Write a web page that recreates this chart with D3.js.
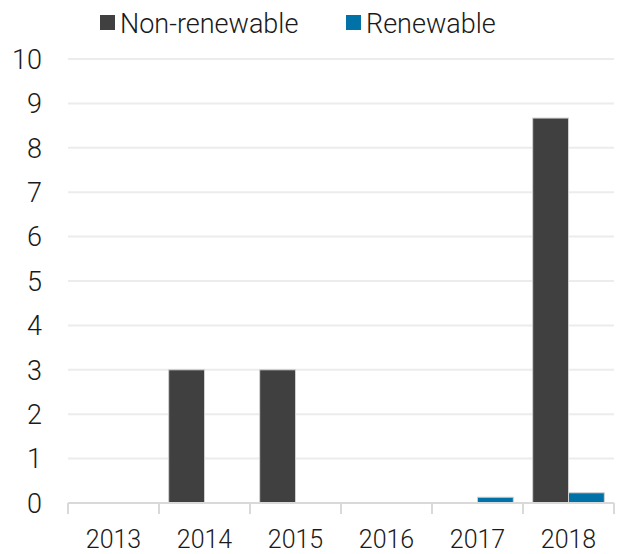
<!DOCTYPE html>
<html>
<head>
<meta charset="utf-8">
<script src="https://cdn.jsdelivr.net/npm/d3@7"></script>
<style>
  body { margin: 0; background: #fff; }
  text { font-family: Roboto, "Open Sans", sans-serif; font-weight: 300; fill: #1a1a1a; }
</style>
</head>
<body>
<svg id="chart" width="622" height="554"></svg>
<script>
// chart data
var years = ["2013", "2014", "2015", "2016", "2017", "2018"];
var seriesNames = ["Non-renewable", "Renewable"];
var nonRenewable = [0, 3, 3, 0, 0, 8.67];
var renewable = [0, 0, 0, 0, 0.13, 0.23];
var yTicks = [0, 1, 2, 3, 4, 5, 6, 7, 8, 9, 10];

var colors = ["#404040", "#0072a8"];

var svg = d3.select("#chart");
var margin = {left: 68, right: 8, top: 59, bottom: 51};
var width = 622 - margin.left - margin.right;
var height = 554 - margin.top - margin.bottom;

var g = svg.append("g").attr("transform", "translate(" + margin.left + "," + margin.top + ")");

var x = d3.scaleBand().domain(years).range([0, width]).paddingInner(0).paddingOuter(0);
var xs = d3.scaleBand().domain(seriesNames).range([0, x.bandwidth()]).paddingInner(0).paddingOuter(0.27);
var y = d3.scaleLinear().domain([0, 10]).range([height, 0]);

// gridlines
g.selectAll(".grid").data(yTicks.slice(1)).enter().append("line")
  .attr("x1", 0).attr("x2", width)
  .attr("y1", function(d) { return y(d); }).attr("y2", function(d) { return y(d); })
  .style("stroke", "#ececec").style("stroke-width", 2);

// y labels
g.selectAll(".ylab").data(yTicks).enter().append("text")
  .attr("x", -26).attr("y", function(d) { return y(d); })
  .attr("dy", "0.36em").attr("text-anchor", "end")
  .style("font-size", "27px")
  .text(function(d) { return d; });

// bars
var data = [nonRenewable, renewable];
data.forEach(function(vals, si) {
  g.selectAll(".bar" + si).data(vals).enter().append("rect")
    .attr("x", function(d, i) { return x(years[i]) + xs(seriesNames[si]); })
    .attr("width", xs.bandwidth())
    .attr("y", function(d) { return y(d); })
    .attr("height", function(d) { return y(0) - y(d); })
    .style("fill", colors[si])
    .style("stroke", function(d) { return d > 0 ? "#d0d0d0" : "none"; })
    .style("stroke-width", 1);
});

// x axis
var xAxis = d3.axisBottom(x).tickSize(0).tickFormat(function(d) { return d; });
var ax = g.append("g").attr("transform", "translate(0," + height + ")").call(xAxis);
ax.select(".domain").remove();
ax.selectAll("text").attr("dy", 0).attr("y", 45)
  .style("font-size", "25px").style("font-family", "Roboto, sans-serif").style("font-weight", 300).style("fill", "#1a1a1a");
g.append("line").attr("x1", 0).attr("x2", width).attr("y1", height).attr("y2", height)
  .style("stroke", "#d9d9d9").style("stroke-width", 2);
var bounds = years.map(function(d) { return x(d); }).concat([width]);
g.selectAll(".xtick").data(bounds).enter().append("line")
  .attr("x1", function(d) { return d; }).attr("x2", function(d) { return d; })
  .attr("y1", height).attr("y2", height + 11)
  .style("stroke", "#d9d9d9").style("stroke-width", 2);

// legend
var legendX = [100, 346];
var legend = svg.selectAll(".legend").data(seriesNames).enter().append("g")
  .attr("transform", function(d, i) { return "translate(" + legendX[i] + ",15)"; });
legend.append("rect").attr("width", 15).attr("height", 15)
  .style("fill", function(d, i) { return colors[i]; });
legend.append("text").attr("x", 20).attr("y", 8).attr("dy", "0.36em")
  .style("font-size", "27px").text(function(d) { return d; });
</script>
</body>
</html>
